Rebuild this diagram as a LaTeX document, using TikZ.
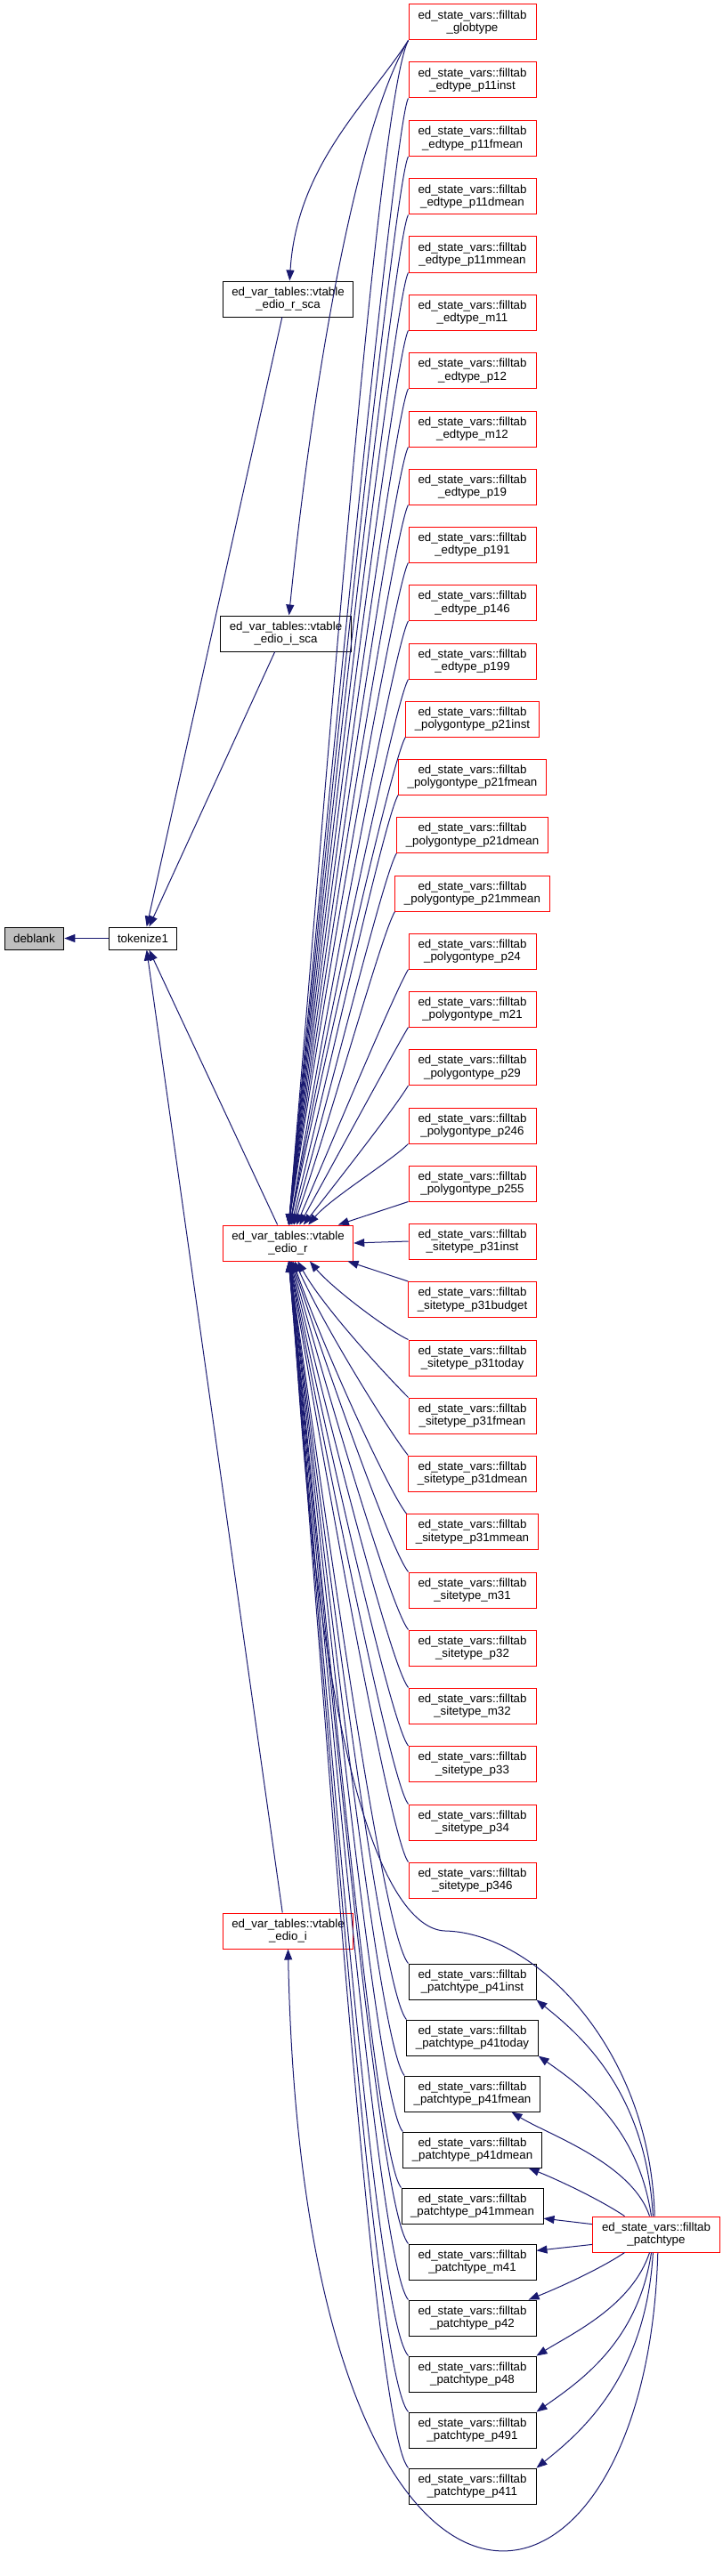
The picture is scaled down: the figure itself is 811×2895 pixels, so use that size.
\documentclass[tikz,border=0pt]{standalone}
\usepackage{fontspec}
\setmainfont{Liberation Sans}
\usetikzlibrary{arrows.meta}
\definecolor{dxedge}{HTML}{191970}
\definecolor{dxred}{HTML}{FF0000}
\definecolor{dxgray}{HTML}{BFBFBF}

\begin{document}
\begin{tikzpicture}[x=1pt, y=-1pt,
    box/.style={draw=black, line width=1pt, fill=white, align=center,
      font=\fontsize{13.3}{14.6}\selectfont, inner xsep=10pt, inner ysep=2pt},
    fn/.style={box, minimum width=143pt, minimum height=40pt},
    redfn/.style={fn, draw=dxred},
    call/.style={draw=dxedge, line width=1pt, -{Triangle[length=12pt, width=9pt]}}]
        \useasboundingbox (0,0) rectangle (811,2895);
        \node[box, fill=dxgray, minimum height=25pt] (deblank) at (38.5,1054.5) {deblank};
        \node[box, minimum height=25pt] (tokenize) at (160.5,1054.5) {tokenize1};
        \node[fn] (rsca) at (323.5,336) {ed\_var\_tables::vtable\\\_edio\_r\_sca};
        \node[fn] (isca) at (321,712) {ed\_var\_tables::vtable\\\_edio\_i\_sca};
        \node[redfn] (edior) at (323.5,1397) {ed\_var\_tables::vtable\\\_edio\_r};
        \node[redfn] (edioi) at (323.5,2170) {ed\_var\_tables::vtable\\\_edio\_i};
        \node[redfn] (patch) at (737,2511) {ed\_state\_vars::filltab\\\_patchtype};
        \node[redfn] (globtype) at (530.5,25) {ed\_state\_vars::filltab\\\_globtype};
        \node[redfn] (p11inst) at (530.5,90) {ed\_state\_vars::filltab\\\_edtype\_p11inst};
        \node[redfn] (p11fmean) at (530.5,155.5) {ed\_state\_vars::filltab\\\_edtype\_p11fmean};
        \node[redfn] (p11dmean) at (530.5,221) {ed\_state\_vars::filltab\\\_edtype\_p11dmean};
        \node[redfn] (p11mmean) at (530.5,286) {ed\_state\_vars::filltab\\\_edtype\_p11mmean};
        \node[redfn] (m11) at (530.5,351) {ed\_state\_vars::filltab\\\_edtype\_m11};
        \node[redfn] (p12) at (530.5,416.5) {ed\_state\_vars::filltab\\\_edtype\_p12};
        \node[redfn] (m12) at (530.5,482) {ed\_state\_vars::filltab\\\_edtype\_m12};
        \node[redfn] (p19) at (530.5,547) {ed\_state\_vars::filltab\\\_edtype\_p19};
        \node[redfn] (p191) at (530.5,612) {ed\_state\_vars::filltab\\\_edtype\_p191};
        \node[redfn] (p146) at (530.5,677.5) {ed\_state\_vars::filltab\\\_edtype\_p146};
        \node[redfn] (p199) at (530.5,743) {ed\_state\_vars::filltab\\\_edtype\_p199};
        \node[redfn] (p21inst) at (530.5,808) {ed\_state\_vars::filltab\\\_polygontype\_p21inst};
        \node[redfn] (p21fmean) at (530.5,873) {ed\_state\_vars::filltab\\\_polygontype\_p21fmean};
        \node[redfn] (p21dmean) at (530.5,938.5) {ed\_state\_vars::filltab\\\_polygontype\_p21dmean};
        \node[redfn] (p21mmean) at (530.5,1004) {ed\_state\_vars::filltab\\\_polygontype\_p21mmean};
        \node[redfn] (p24) at (530.5,1069) {ed\_state\_vars::filltab\\\_polygontype\_p24};
        \node[redfn] (m21) at (530.5,1134) {ed\_state\_vars::filltab\\\_polygontype\_m21};
        \node[redfn] (p29) at (530.5,1199.5) {ed\_state\_vars::filltab\\\_polygontype\_p29};
        \node[redfn] (p246) at (530.5,1265) {ed\_state\_vars::filltab\\\_polygontype\_p246};
        \node[redfn] (p255) at (530.5,1330) {ed\_state\_vars::filltab\\\_polygontype\_p255};
        \node[redfn] (p31inst) at (530.5,1395) {ed\_state\_vars::filltab\\\_sitetype\_p31inst};
        \node[redfn] (p31budget) at (530.5,1460.5) {ed\_state\_vars::filltab\\\_sitetype\_p31budget};
        \node[redfn] (p31today) at (530.5,1526) {ed\_state\_vars::filltab\\\_sitetype\_p31today};
        \node[redfn] (p31fmean) at (530.5,1591) {ed\_state\_vars::filltab\\\_sitetype\_p31fmean};
        \node[redfn] (p31dmean) at (530.5,1656) {ed\_state\_vars::filltab\\\_sitetype\_p31dmean};
        \node[redfn] (p31mmean) at (530.5,1721.5) {ed\_state\_vars::filltab\\\_sitetype\_p31mmean};
        \node[redfn] (m31) at (530.5,1787) {ed\_state\_vars::filltab\\\_sitetype\_m31};
        \node[redfn] (p32) at (530.5,1852) {ed\_state\_vars::filltab\\\_sitetype\_p32};
        \node[redfn] (m32) at (530.5,1917) {ed\_state\_vars::filltab\\\_sitetype\_m32};
        \node[redfn] (p33) at (530.5,1982.5) {ed\_state\_vars::filltab\\\_sitetype\_p33};
        \node[redfn] (p34) at (530.5,2048) {ed\_state\_vars::filltab\\\_sitetype\_p34};
        \node[redfn] (p346) at (530.5,2113) {ed\_state\_vars::filltab\\\_sitetype\_p346};
        \node[fn] (p41inst) at (530.5,2227) {ed\_state\_vars::filltab\\\_patchtype\_p41inst};
        \node[fn] (p41today) at (530.5,2290) {ed\_state\_vars::filltab\\\_patchtype\_p41today};
        \node[fn] (p41fmean) at (530.5,2353) {ed\_state\_vars::filltab\\\_patchtype\_p41fmean};
        \node[fn] (p41dmean) at (530.5,2416) {ed\_state\_vars::filltab\\\_patchtype\_p41dmean};
        \node[fn] (p41mmean) at (530.5,2479) {ed\_state\_vars::filltab\\\_patchtype\_p41mmean};
        \node[fn] (m41) at (530.5,2542) {ed\_state\_vars::filltab\\\_patchtype\_m41};
        \node[fn] (p42) at (530.5,2605) {ed\_state\_vars::filltab\\\_patchtype\_p42};
        \node[fn] (p48) at (530.5,2668) {ed\_state\_vars::filltab\\\_patchtype\_p48};
        \node[fn] (p491) at (530.5,2731) {ed\_state\_vars::filltab\\\_patchtype\_p491};
        \node[fn] (p411) at (530.5,2794) {ed\_state\_vars::filltab\\\_patchtype\_p411};
        \coordinate (rbend) at (500,2170);
        \draw[call] (tokenize.west) -- (deblank.east);
        \draw[call] (rsca.-108) -- (tokenize.72);
        \draw[call] (isca.-121) -- (tokenize.62);
        \draw[call] (edior.120) -- (tokenize.-62);
        \draw[call] (edioi.107) -- (tokenize.-72);
        \draw[call] (globtype.south west) .. controls +(-45,70) and +(8,-130) .. (rsca.85);
        \draw[call] (globtype.south west) .. controls +(-60,100) and +(25,-250) .. (isca.80);
        \draw[call] (globtype.south west) .. controls +(-35,70) and +(40,-466) .. (edior.88);
        \draw[call] (p11inst.south west) .. controls +(-15,25) and +(40,-443) .. (edior.88);
        \draw[call] (p11fmean.south west) .. controls +(-15,25) and +(40,-420) .. (edior.88);
        \draw[call] (p11dmean.south west) .. controls +(-15,25) and +(40,-398) .. (edior.88);
        \draw[call] (p11mmean.south west) .. controls +(-15,25) and +(40,-375) .. (edior.88);
        \draw[call] (m11.south west) .. controls +(-15,25) and +(40,-352) .. (edior.88);
        \draw[call] (p12.south west) .. controls +(-15,25) and +(40,-329) .. (edior.88);
        \draw[call] (m12.south west) .. controls +(-15,25) and +(40,-306) .. (edior.88);
        \draw[call] (p19.south west) .. controls +(-15,25) and +(40,-283) .. (edior.88);
        \draw[call] (p191.south west) .. controls +(-15,25) and +(40,-261) .. (edior.88);
        \draw[call] (p146.south west) .. controls +(-15,25) and +(40,-238) .. (edior.84);
        \draw[call] (p199.south west) .. controls +(-15,25) and +(40,-215) .. (edior.84);
        \draw[call] (p21inst.south west) .. controls +(-15,25) and +(40,-192) .. (edior.84);
        \draw[call] (p21fmean.south west) .. controls +(-15,25) and +(42,-169) .. (edior.80);
        \draw[call] (p21dmean.south west) .. controls +(-15,25) and +(42,-146) .. (edior.76);
        \draw[call] (p21mmean.south west) .. controls +(-15,25) and +(43,-124) .. (edior.72);
        \draw[call] (p24.south west) .. controls +(-15,25) and +(43,-101) .. (edior.65);
        \draw[call] (m21.south west) .. controls +(-15,25) and +(43,-78) .. (edior.58);
        \draw[call] (p29.south west) .. controls +(-15,25) and +(43,-55) .. (edior.50);
        \draw[call] (p246.south west) .. controls +(-20,20) and +(25,-30) .. (edior.42);
        \draw[call] (p255.south west) -- (edior.20);
        \draw[call] (p31inst.west) -- (edior.east);
        \draw[call] (p31budget.north west) -- (edior.-17);
        \draw[call] (p31today.north west) .. controls +(-25,-12) and +(25,30) .. (edior.-40);
        \draw[call] (p31fmean.north west) .. controls +(-20,-20) and +(30,54) .. (edior.-62);
        \draw[call] (p31dmean.north west) .. controls +(-20,-25) and +(35,77) .. (edior.-70);
        \draw[call] (p31mmean.north west) .. controls +(-20,-25) and +(35,100) .. (edior.-75);
        \draw[call] (m31.north west) .. controls +(-20,-25) and +(40,122) .. (edior.-78);
        \draw[call] (p32.north west) .. controls +(-20,-25) and +(40,145) .. (edior.-80);
        \draw[call] (m32.north west) .. controls +(-20,-25) and +(40,168) .. (edior.-82);
        \draw[call] (p33.north west) .. controls +(-20,-25) and +(40,190) .. (edior.-84);
        \draw[call] (p34.north west) .. controls +(-20,-25) and +(40,214) .. (edior.-85);
        \draw[call] (p346.north west) .. controls +(-20,-25) and +(40,236) .. (edior.-86);
        \draw[call] (p41inst.north west) .. controls +(-30,-35) and +(40,276) .. (edior.-87);
        \draw[call] (p41today.north west) .. controls +(-30,-35) and +(40,298) .. (edior.-87);
        \draw[call] (p41fmean.north west) .. controls +(-30,-35) and +(40,320) .. (edior.-87);
        \draw[call] (p41dmean.north west) .. controls +(-30,-35) and +(40,342) .. (edior.-87);
        \draw[call] (p41mmean.north west) .. controls +(-30,-35) and +(40,365) .. (edior.-88);
        \draw[call] (m41.north west) .. controls +(-35,-40) and +(40,387) .. (edior.-88);
        \draw[call] (p42.north west) .. controls +(-35,-40) and +(40,409) .. (edior.-88);
        \draw[call] (p48.north west) .. controls +(-40,-45) and +(40,431) .. (edior.-88);
        \draw[call] (p491.north west) .. controls +(-40,-45) and +(40,453) .. (edior.-88);
        \draw[call] (p411.north west) .. controls +(-40,-45) and +(40,475) .. (edior.-88);
        \draw[call] (patch.95) .. controls +(-5,-190) and +(100,2) .. (rbend)
          .. controls +(-60,-2) and +(30,600) .. (edior.-80);
        \draw[call] (patch.275) .. controls +(-13,470) and +(17,860) .. (edioi.south);
        \draw[call] (patch.100) .. controls +(-8,-140) and +(50,40) .. (p41inst.south east);
        \draw[call] (patch.105) .. controls +(-15,-100) and +(50,35) .. (p41today.south east);
        \draw[call] (patch.110) .. controls +(-20,-60) and +(40,25) .. (p41fmean.-25);
        \draw[call] (patch.150) .. controls +(-30,-20) and +(30,12) .. (p41dmean.-18);
        \draw[call] (patch.171) -- (p41mmean.-10);
        \draw[call] (patch.189) -- (m41.10);
        \draw[call] (patch.210) .. controls +(-30,20) and +(30,-12) .. (p42.18);
        \draw[call] (patch.250) .. controls +(-20,60) and +(40,-25) .. (p48.north east);
        \draw[call] (patch.255) .. controls +(-15,100) and +(50,-35) .. (p491.north east);
        \draw[call] (patch.260) .. controls +(-8,140) and +(50,-40) .. (p411.north east);
      \end{tikzpicture}
\end{document}
